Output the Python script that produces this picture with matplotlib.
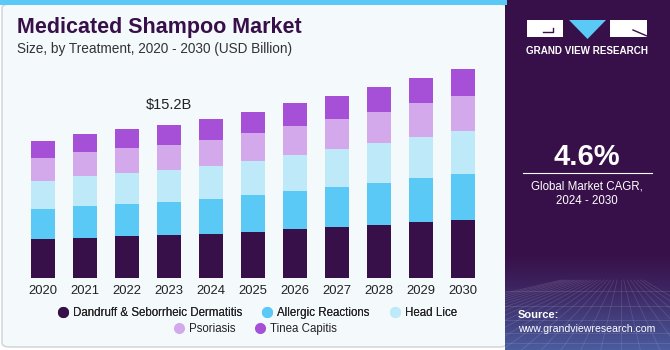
import numpy as np
import matplotlib.pyplot as plt
from matplotlib.patches import FancyBboxPatch, Rectangle, Polygon
from matplotlib.lines import Line2D

plt.rcParams['font.family'] = ['Liberation Sans', 'DejaVu Sans']

years = ['2020', '2021', '2022', '2023', '2024', '2025', '2026', '2027', '2028', '2029', '2030']
dandruff = [3.90, 4.03, 4.17, 4.27, 4.40, 4.63, 4.87, 5.09, 5.32, 5.56, 5.79]
allergic = [2.95, 3.15, 3.24, 3.34, 3.48, 3.64, 3.80, 3.97, 4.17, 4.40, 4.57]
head_lice = [2.81, 2.95, 3.02, 3.12, 3.28, 3.41, 3.57, 3.74, 3.91, 4.07, 4.27]
psoriasis = [2.28, 2.41, 2.51, 2.54, 2.61, 2.78, 2.88, 2.98, 3.14, 3.35, 3.48]
tinea = [1.72, 1.79, 1.86, 1.93, 2.03, 2.09, 2.25, 2.31, 2.42, 2.51, 2.65]

series = [
    ('Dandruff & Seborrheic Dermatitis', dandruff, '#381049'),
    ('Allergic Reactions', allergic, '#5BC9F5'),
    ('Head Lice', head_lice, '#BDE9F9'),
    ('Psoriasis', psoriasis, '#D4A9EC'),
    ('Tinea Capitis', tinea, '#A650D7'),
]

W, H = 670, 350
fig = plt.figure(figsize=(6.7, 3.5), dpi=100)
fig.patch.set_facecolor('white')


def fx(px):
    return px / W


def fy(py):
    return 1 - py / H


# left panel background
fig.add_artist(FancyBboxPatch((2 / W, 3 / H), 505 / W, 343 / H,
                              boxstyle='round,pad=0,rounding_size=0.012',
                              transform=fig.transFigure, facecolor='#F4F9FC',
                              edgecolor='#D5D8DB', linewidth=1.2, zorder=0))
fig.add_artist(Rectangle((0, 1 - 5 / H), 507 / W, 5 / H, transform=fig.transFigure,
                         facecolor='#5BC9F5', edgecolor='none', zorder=1))

# right panel
rp = fig.add_axes([505 / W, 0, 165 / W, 1])
grad = np.linspace(0, 1, 200)
c1 = np.array([0x38, 0x10, 0x49]) / 255
c2 = np.array([0x4A, 0x5C, 0x9E]) / 255
t = np.clip((grad - 0.72) / 0.28, 0, 1) ** 1.3
img = (c1[None, :] * (1 - t[:, None]) + c2[None, :] * t[:, None])[:, None, :]
rp.imshow(img, aspect='auto', extent=[0, 1, 0, 1], origin='upper')
for k in range(-8, 18):
    rp.plot([0.5 + k * 0.02, k * 0.12 - 0.5], [0.2, 0.0], color='white', alpha=0.12, lw=0.6)
for yy in [0.02, 0.05, 0.085, 0.125, 0.17]:
    rp.plot([0, 1], [yy, yy], color='white', alpha=0.12, lw=0.6)
rp.set_xlim(0, 1)
rp.set_ylim(0, 1)
rp.axis('off')

# logo
fig.add_artist(Rectangle((fx(527), fy(37)), 36 / W, 17 / H, transform=fig.transFigure,
                         facecolor='white', edgecolor='none', zorder=5))
fig.add_artist(Rectangle((fx(610), fy(37)), 37 / W, 17 / H, transform=fig.transFigure,
                         facecolor='white', edgecolor='none', zorder=5))
fig.add_artist(Polygon([(fx(569), fy(20)), (fx(606), fy(20)), (fx(587.5), fy(39))],
                       closed=True, transform=fig.transFigure, facecolor='#5BC9F5',
                       edgecolor='none', zorder=5))
fig.add_artist(Line2D([fx(543), fx(553), fx(553)], [fy(32), fy(32), fy(28)],
                      transform=fig.transFigure, color='#381049', lw=1, zorder=6))
fig.add_artist(Line2D([fx(633), fx(647)], [fy(30), fy(36)],
                      transform=fig.transFigure, color='#381049', lw=1, zorder=6))
fig.text(fx(587), fy(51), 'GRAND VIEW RESEARCH', color='white', fontsize=7.1,
         fontweight='bold', ha='center', va='center', zorder=6)

fig.text(fx(587), fy(157), '4.6%', color='white', fontsize=21, fontweight='bold',
         ha='center', va='center')
fig.add_artist(Line2D([fx(523), fx(652)], [fy(173), fy(173)], transform=fig.transFigure,
                      color='white', lw=0.8))
fig.text(fx(587), fy(186), 'Global Market CAGR,', color='white', fontsize=8.3,
         ha='center', va='center')
fig.text(fx(587), fy(201), '2024 - 2030', color='white', fontsize=8.3,
         ha='center', va='center')
fig.text(fx(518), fy(315), 'Source:', color='white', fontsize=8, fontweight='bold',
         ha='left', va='center')
fig.text(fx(518), fy(329), 'www.grandviewresearch.com', color='white', fontsize=7.6,
         ha='left', va='center')

# titles
fig.text(fx(17), fy(27), 'Medicated Shampoo Market', color='#381049', fontsize=15.5,
         fontweight='heavy', ha='left', va='center')
fig.text(fx(17), fy(49), 'Size, by Treatment, 2020 - 2030 (USD Billion)', color='#333333',
         fontsize=9.8, ha='left', va='center')

# chart
ax = fig.add_axes([22 / W, 1 - 278.3 / H, 462 / W, 218.3 / H])
ax.set_facecolor('none')
x = np.arange(len(years))
bottom = np.zeros(len(years))
handles = []
for name, vals, col in series:
    ax.bar(x, vals, width=0.57, bottom=bottom, color=col, edgecolor='none')
    bottom += np.array(vals)
    handles.append(Line2D([], [], marker='o', linestyle='none', markersize=8,
                          markerfacecolor=col, markeredgecolor='none', label=name))
ax.set_xlim(-0.5, len(years) - 0.5)
ax.set_ylim(0, 21.68)
ax.set_xticks(x)
ax.set_xticklabels(years, fontsize=9.4, color='#222222')
ax.tick_params(axis='x', length=0, pad=5)
ax.set_yticks([])
for s in ax.spines.values():
    s.set_visible(False)

total_2023 = bottom[3]
ax.text(3, total_2023 + 1.3, f'${total_2023:.1f}B', ha='center', va='bottom',
        fontsize=10.5, color='#222222')

legend_font = {'size': 8.3}
leg1 = fig.legend(handles=handles[:3], loc='center', bbox_to_anchor=(fx(257), fy(313)),
                  ncol=3, frameon=False, prop=legend_font, handletextpad=0.35,
                  columnspacing=1.7, handlelength=1.0, borderaxespad=0, labelcolor='#222222')
fig.legend(handles=handles[3:], loc='center', bbox_to_anchor=(fx(255), fy(329)),
           ncol=2, frameon=False, prop=legend_font, handletextpad=0.35,
           columnspacing=1.7, handlelength=1.0, borderaxespad=0, labelcolor='#222222')
fig.add_artist(leg1)

fig.savefig('out.png', dpi=100)
